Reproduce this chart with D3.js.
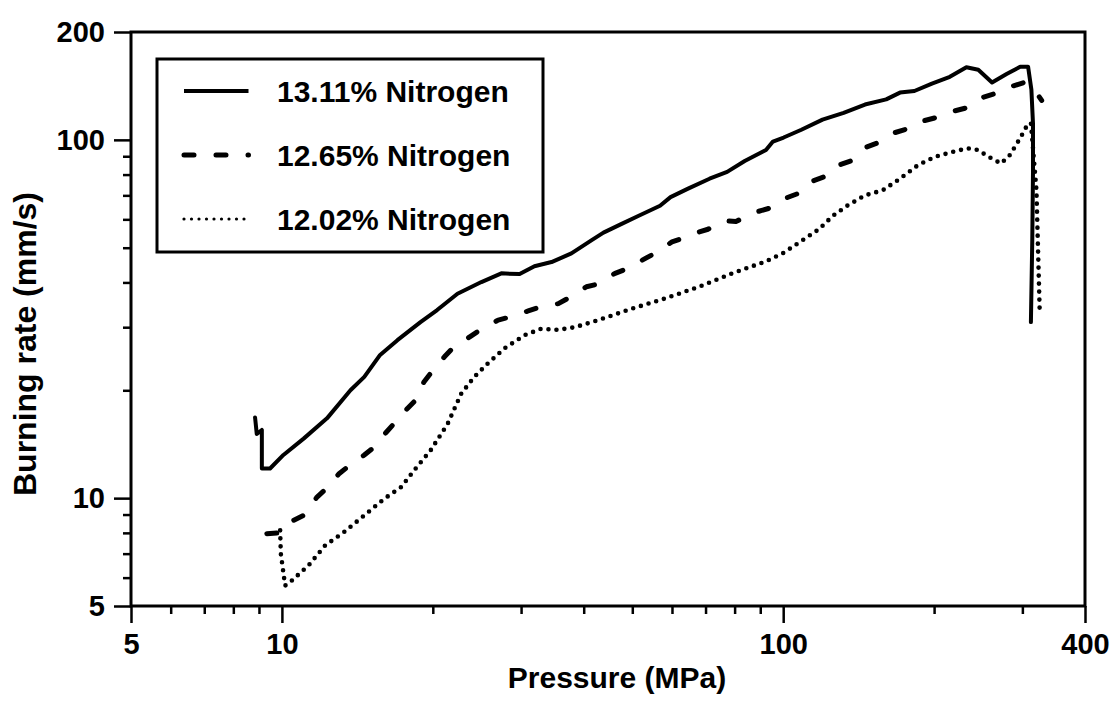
<!DOCTYPE html>
<html>
<head>
<meta charset="utf-8">
<script src="https://cdn.jsdelivr.net/npm/d3@7"></script>
<style>
  body { margin: 0; background: #fff; }
  text { font-family: "Liberation Sans", Arial, sans-serif; font-weight: bold; fill: #000; }
</style>
</head>
<body>
<script>
// burning rate vs pressure, [pressure MPa, rate mm/s]
var n1311 = [[8.84,16.8],[8.91,15.1],[9.12,15.5],[9.12,12.1],[9.47,12.1],[10.07,13.2],[11.05,14.66],
  [12.3,16.7],[13.7,20.0],[14.6,21.8],[15.7,25.1],[17.0,27.6],[18.9,31.0],[20.4,33.5],[22.4,37.2],
  [25.0,40.1],[27.4,42.4],[29.8,42.2],[31.9,44.4],[34.5,45.6],[37.8,48.2],[41.5,52.5],[43.8,55.1],
  [47.5,58.2],[51.5,61.4],[56.8,65.5],[59.6,69.2],[64.6,73.1],[71.3,77.9],[77.3,81.4],[83.8,87.3],
  [92.4,93.7],[95.4,98.9],[100.2,101.5],[108.7,106.7],[119.8,113.9],[132,119],[145.6,125.5],
  [160.5,129.7],[171,135.5],[182.7,136.9],[198,143.6],[215,150],[232,159.5],[245,157],[261,144.5],
  [279,152.6],[297,160],[308,160],[312.7,138],[315,111],[315,81],[314,53],[312,31]];

var n1265 = [[9.33,7.96],[9.92,8.0],[10.55,8.67],[11.05,8.95],[11.75,10.07],[12.2,10.56],[13.0,11.7],
  [13.4,12.1],[14.6,13.2],[15.3,13.9],[16.1,15.2],[16.7,16.1],[17.8,17.8],[18.5,18.8],[19.2,21.1],
  [19.8,22.3],[21.1,24.8],[21.9,26.2],[23.7,28.2],[24.8,29.4],[27.0,31.4],[28.2,31.9],[31.0,33.3],
  [32.4,34.0],[35.6,34.9],[37.2,36.1],[40.5,38.9],[42.4,39.5],[46.2,42.4],[48.4,43.5],[53.0,46.6],
  [55.1,48.0],[60,51.9],[62.2,52.8],[67.3,55.1],[70.8,56.3],[76.6,59.4],[80.5,59.2],[88.0,62.8],
  [93.7,64.4],[100.2,68.4],[106.7,70.7],[113.1,76.3],[120.6,78.8],[128.9,85],[136.3,87.3],
  [145.6,95.1],[153.9,97.9],[165.7,104.4],[176.6,107.3],[188.7,112.6],[201,115.2],[218.5,120.2],
  [232.4,122.9],[248.7,131.1],[264.5,134.6],[283.2,140.5],[302,144.5],[320,135.4],[327.8,128.8]];

var n1202 = [[9.92,8.13],[9.95,7.0],[10.15,5.7],[10.47,5.89],[11.3,6.49],[12.2,7.38],[13.3,8.04],
  [14.6,8.95],[16.0,9.96],[17.3,10.74],[18.35,11.95],[19.8,13.6],[21.4,16.1],[22.8,19.6],[24.2,21.8],
  [25.7,23.7],[27.8,26.2],[30.5,28.5],[32.9,29.7],[35.6,29.5],[38.4,30.0],[42.8,31.4],[49.9,33.8],
  [58.2,36.1],[67.9,38.9],[79.1,42.4],[85.2,44.0],[92.4,45.8],[100.2,48.4],[108.7,52.2],[117.8,56.3],
  [125.7,61.4],[134.2,65.5],[145.6,70],[157.9,72.3],[171,77.9],[185.7,85],[201,89.7],[218.5,92.7],
  [233,94.7],[244.7,93.7],[256.9,89.7],[272,85.9],[283.2,90.7],[297,101.1],[307,110.2],[312,111.4],
  [314,100],[320,72.5],[322,52.6],[324,38.1],[325,32.5]];

var legendLabels = ["13.11% Nitrogen", "12.65% Nitrogen", "12.02% Nitrogen"];

var xMajor = [5, 10, 100, 400];
var xMinor = [6, 7, 8, 9, 20, 30, 40, 50, 60, 70, 80, 90, 200, 300];
var yMajor = [5, 10, 100, 200];
var yMinor = [6, 7, 8, 9, 20, 30, 40, 50, 60, 70, 80, 90];

var svg = d3.select("body").append("svg")
  .attr("width", 1120).attr("height", 704);

var L = 131, R = 1085, T = 32, B = 606;

var scX = d3.scaleLog().domain([5, 400]).range([L, R]);
var scY = d3.scaleLog().domain([5, 200]).range([B, T]);

// axes: minor ticks short, major ticks long with labels
var axMkr = function (axis, vals, size, pad, tr, labels) {
  var g = svg.append("g").attr("transform", tr)
    .call(axis.tickValues(vals).tickSize(size).tickSizeOuter(0).tickPadding(pad)
      .tickFormat(labels ? d3.format("d") : ""));
  g.select(".domain").remove();
  g.selectAll("line").attr("stroke", "#000").attr("stroke-width", 2.5);
  g.selectAll("text").attr("font-size", 29).attr("font-family", null);
  return g;
};

axMkr(d3.axisBottom(scX), xMinor, 8, 0, "translate(0," + B + ")", false);
axMkr(d3.axisBottom(scX), xMajor, 17, 10, "translate(0," + B + ")", true);
axMkr(d3.axisLeft(scY), yMinor, 8, 0, "translate(" + L + ",0)", false);
axMkr(d3.axisLeft(scY), yMajor, 17, 9, "translate(" + L + ",0)", true);

// frame
svg.append("rect")
  .attr("x", L).attr("y", T).attr("width", R - L).attr("height", B - T)
  .attr("fill", "none").attr("stroke", "#000").attr("stroke-width", 3);

var line = d3.line().x(d => scX(d[0])).y(d => scY(d[1]));

var styles = [
  { w: 4, dash: null },
  { w: 5, dash: "10,22" },
  { w: 4.6, dash: "0,8" }
];

[n1311, n1265, n1202].forEach(function (s, i) {
  svg.append("path")
    .attr("d", line(s))
    .attr("fill", "none").attr("stroke", "#000")
    .attr("stroke-width", styles[i].w)
    .attr("stroke-linecap", "round").attr("stroke-linejoin", "round")
    .attr("stroke-dasharray", styles[i].dash);
});

// legend
var lg = svg.append("g");
lg.append("rect")
  .attr("x", 157).attr("y", 59).attr("width", 386).attr("height", 193)
  .attr("fill", "#fff").attr("stroke", "#000").attr("stroke-width", 3);

var legStyles = [
  { w: 4, dash: null },
  { w: 5, dash: "10,22" },
  { w: 3.2, dash: "0,7.5" }
];

legendLabels.forEach(function (lab, i) {
  var yy = 91 + i * 64;
  lg.append("line")
    .attr("x1", 184).attr("x2", 248.5).attr("y1", yy).attr("y2", yy)
    .attr("stroke", "#000").attr("stroke-width", legStyles[i].w)
    .attr("stroke-linecap", i === 0 ? "butt" : "round")
    .attr("stroke-dasharray", legStyles[i].dash);
  lg.append("text")
    .attr("x", 277).attr("y", yy + 10.5)
    .attr("font-size", 30)
    .text(lab);
});

// axis titles
svg.append("text")
  .attr("x", 617).attr("y", 688)
  .attr("text-anchor", "middle").attr("font-size", 30)
  .text("Pressure (MPa)");

svg.append("text")
  .attr("transform", "translate(36,344) rotate(-90)")
  .attr("text-anchor", "middle").attr("font-size", 32)
  .text("Burning rate (mm/s)");
</script>
</body>
</html>
